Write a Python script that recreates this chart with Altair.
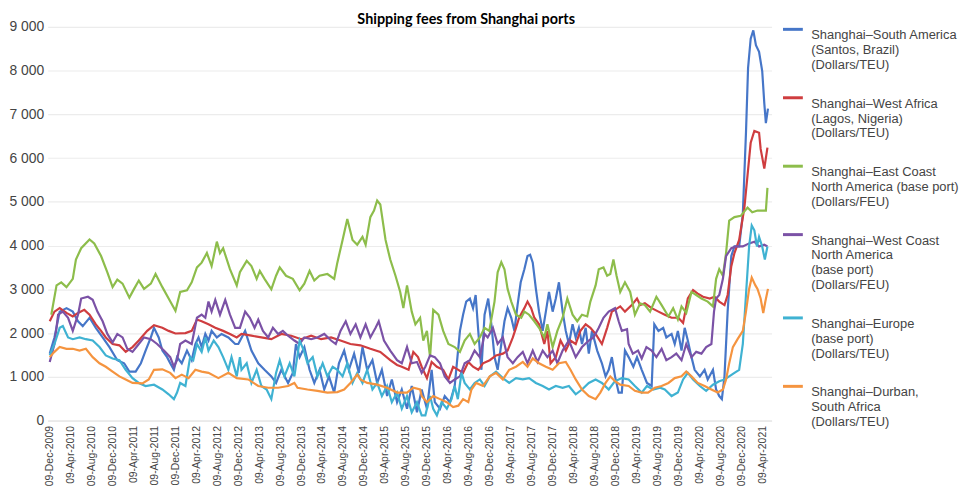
import altair as alt
import pandas as pd

FONT = "Liberation Sans Narrow, Arial Narrow, Liberation Sans, Arial"

names = [
    "Shanghai–South America|(Santos, Brazil)|(Dollars/TEU)",
    "Shanghai–West Africa|(Lagos, Nigeria)|(Dollars/TEU)",
    "Shanghai–East Coast|North America (base port)|(Dollars/FEU)",
    "Shanghai–West Coast|North America|(base port)|(Dollars/FEU)",
    "Shanghai–Europe|(base port)|(Dollars/TEU)",
    "Shanghai–Durban,|South Africa|(Dollars/TEU)",
]
colors = ["#4676c8", "#cf3d3f", "#8dbd4b", "#7b52a6", "#3fb2d2", "#f5943f"]

# months since 09-Dec-2009, fee values
t_green = [0.3,1.3,2.2,3.2,4.4,5.0,6.0,7.6,8.5,9.8,11.0,12.0,12.9,13.9,15.2,16.1,17.0,18.0,19.3,20.2,21.5,22.7,24.0,24.9,26.2,27.1,28.1,29.0,30.0,30.9,31.9,32.5,33.1,34.4,35.7,36.3,37.6,38.5,39.5,40.1,41.0,42.3,43.2,43.9,45.1,46.4,47.7,48.6,49.6,50.5,51.5,53.0,54.3,54.9,55.9,56.8,57.8,58.7,59.7,60.3,61.2,61.9,62.5,63.1,64.1,65.0,66.0,66.9,67.5,68.2,69.1,69.8,70.7,71.3,72.0,72.6,73.2,74.2,75.1,76.1,77.3,78.3,79.2,80.2,81.1,82.1,83.0,83.9,84.9,85.5,86.2,86.8,87.4,88.1,89.0,90.0,90.6,91.5,92.5,93.4,94.4,95.0,96.0,96.9,97.9,98.8,99.8,100.7,101.6,102.6,103.2,104.2,104.8,105.7,106.4,107.0,107.6,108.2,108.9,109.8,110.8,111.7,112.7,113.6,114.6,115.8,116.8,118.1,119.0,119.9,120.6,121.5,122.5,123.4,124.4,125.6,126.6,127.2,127.8,128.5,129.1,129.7,130.7,131.9,133.2,134.1,135.1,136.7,137.0]
v_green = [2420,3090,3160,3050,3240,3680,3940,4140,4050,3760,3390,3050,3220,3130,2810,3010,3200,3010,3130,3350,3050,2790,2510,2940,2980,3160,3500,3610,3830,3530,4090,3830,3940,3460,3090,3390,3650,3530,3240,3420,3240,3000,3310,3500,3310,3240,2980,3130,3420,3200,3310,3350,3240,3610,4130,4610,4130,4020,4200,4020,4650,4800,5030,4940,4130,3680,3310,2940,2570,3090,2490,2200,2350,1830,2050,1450,2530,2420,2050,1750,1680,1570,1830,1980,1750,1900,2120,2050,2720,3390,3620,3460,3010,2720,2420,2350,2490,2420,2270,2120,1900,2200,1680,2050,2350,2790,2420,2270,2420,2380,2720,3090,3460,3500,3310,3350,3680,3310,2940,3160,2940,2420,2680,2640,2490,2830,2640,2380,2570,2310,2610,2460,2940,2870,2790,2720,2610,3240,3460,3310,3830,4570,4650,4680,4870,4760,4800,4800,5320]

t_red = [0,0.9,1.9,3.2,4.4,5.4,6.6,7.6,8.8,9.8,10.7,12.0,13.3,14.5,15.8,17.0,18.6,19.9,21.5,22.7,24.0,25.9,27.1,28.1,29.0,30.3,31.6,33.1,34.4,35.7,36.6,38.5,40.4,42.3,44.2,46.1,48.0,49.9,51.8,53.7,55.5,57.4,59.3,61.2,63.1,65.0,66.3,67.2,68.5,69.4,70.3,71.0,72.0,72.9,73.9,75.1,76.1,77.0,78.0,78.9,79.9,80.8,81.8,82.7,84.0,85.2,86.5,87.4,88.4,89.0,89.6,90.6,91.2,91.9,92.5,93.4,94.4,95.0,95.6,96.6,97.5,98.5,99.4,100.4,101.3,102.3,103.2,104.2,105.4,106.4,107.3,107.9,108.9,109.8,111.1,112.1,112.7,113.6,114.9,116.2,117.4,118.7,120.0,120.9,121.8,122.8,123.7,124.7,126.0,126.9,127.8,128.8,129.4,130.1,130.7,131.6,132.6,133.2,133.8,134.5,135.4,135.7,136.4,137.0]
v_red = [2270,2490,2570,2460,2380,2460,2530,2420,2200,2050,1900,1750,1720,1570,1680,1830,2050,2180,2120,2050,1990,2000,2050,2310,2270,2200,2120,2050,1980,1900,1980,1940,1900,1860,1980,1940,1860,1940,1860,1900,1830,1750,1720,1640,1570,1380,1270,1230,1160,1570,1450,1230,970,1340,1230,1160,940,1230,1160,1090,1340,1230,1160,1310,1380,1490,1530,1600,1900,2120,2350,2570,2720,2570,2350,2200,1750,2050,1310,1450,1830,1600,1830,1750,2050,2200,2120,1980,1750,2120,2490,2530,2610,2490,2640,2790,2640,2680,2570,2490,2420,2350,2350,2230,2790,2980,2900,2830,2790,2830,2720,2640,2870,3530,3830,4130,4870,5610,6350,6620,6580,6210,5760,6240]

t_purple = [0,0.9,1.6,2.5,3.5,4.4,5.4,6.0,7.3,8.2,9.1,10.1,11.0,12.0,12.9,13.9,14.8,15.8,17.0,18.0,19.3,20.5,21.8,23.0,23.7,24.3,24.9,25.9,27.1,28.1,29.0,29.7,30.3,30.9,31.6,32.5,33.5,34.4,35.4,36.3,37.3,38.2,39.1,39.8,40.7,41.7,42.6,43.6,44.5,45.5,46.7,47.7,48.6,49.9,51.1,52.4,53.7,54.6,55.5,56.5,57.4,58.4,59.3,60.3,61.2,62.2,62.8,63.8,65.0,66.3,67.2,68.2,69.1,70.1,71.0,71.7,72.6,73.5,74.5,75.4,76.4,77.3,78.3,79.2,80.2,81.1,82.1,83.0,83.6,84.6,85.5,86.5,87.4,88.4,89.3,90.3,91.2,92.2,93.1,94.1,95.0,96.0,96.9,97.9,99.1,100.4,101.6,102.9,103.8,104.8,105.7,106.7,107.9,108.6,109.2,110.2,110.5,111.3,112.3,113.0,113.9,114.9,115.8,116.8,117.7,118.7,119.6,120.6,121.5,122.5,123.4,124.4,125.3,126.3,126.8,127.2,127.8,128.5,129.1,130.1,131.0,132.3,133.5,134.5,135.4,136.4,137.0]
v_purple = [1340,1750,2420,2490,2350,2050,2420,2790,2830,2760,2490,2270,1980,1790,1980,1900,1640,1570,1750,1900,1860,1750,1600,1450,1230,1380,1750,1830,1750,2350,2420,2350,2720,2490,2760,2420,2760,2420,2120,2120,2490,2350,2120,2310,2050,1900,2120,1980,2050,1940,1830,1750,1900,1860,1900,1980,1830,1750,2050,2270,1980,2200,1900,2200,1900,2120,2270,1830,1600,1380,1310,1680,1310,1340,1090,1230,1490,1450,1310,1010,860,940,1010,1310,1380,1600,1450,1980,1900,2120,1750,1900,1450,1310,1450,1570,1310,1600,1340,1600,1450,1600,1310,1600,1830,1450,1680,1830,1900,2120,2350,2490,2570,2270,2050,2090,1750,1530,1600,1420,1680,1600,1450,1640,1380,1450,1530,1380,1750,1450,1570,1530,1680,1750,2490,2790,2870,3240,3760,3940,3980,3980,4050,4090,3980,4020,3980]

t_blue = [0,0.9,1.9,3.2,4.4,5.4,6.3,7.6,8.8,10.1,11.4,12.9,14.2,15.2,16.4,17.4,18.3,19.3,19.9,20.8,21.5,22.4,23.0,23.7,24.3,25.2,26.2,27.1,27.8,28.4,29.0,29.7,30.3,30.9,31.9,32.8,34.1,35.4,36.0,37.3,38.5,39.8,41.0,42.3,43.2,44.2,45.5,46.4,47.0,47.7,48.6,49.6,50.5,51.5,52.4,53.3,54.3,55.2,56.2,57.1,58.1,59.0,59.7,60.6,61.6,62.5,63.4,64.4,65.3,66.3,67.2,68.2,69.1,70.1,71.0,72.0,72.9,73.5,74.5,75.4,76.4,77.3,78.3,78.9,79.5,80.2,80.8,81.3,81.8,82.4,83.0,83.7,84.3,84.9,85.5,86.2,86.8,87.4,88.1,88.7,89.3,89.9,90.6,91.2,91.7,92.2,92.8,93.4,94.1,94.7,95.3,96.0,96.6,97.2,97.9,98.5,99.1,99.8,100.4,101.0,101.6,102.3,102.9,103.5,104.5,105.4,106.1,106.7,107.3,107.9,108.6,109.2,109.8,110.5,111.4,112.1,113.0,114.0,114.9,115.4,116.2,117.1,117.7,118.7,119.3,119.9,120.6,121.2,121.8,122.5,123.1,124.1,125.0,125.6,126.6,127.2,127.8,128.3,128.8,129.4,130.1,130.7,131.6,132.3,132.9,133.3,133.8,134.3,134.8,135.4,136.0,136.4,136.7,137.1]
v_blue = [1530,1900,2490,2570,2490,2270,2160,2350,2120,1900,1680,1380,1310,1120,1120,1310,1600,1900,2120,1900,1600,1450,1310,1160,1450,1310,1600,1380,1750,1900,1680,1980,1830,2050,1900,1980,1900,1750,1750,2050,1600,1310,1160,1010,860,1160,860,1090,1750,1450,1680,1160,860,1160,710,1010,640,1310,1600,1160,1530,1090,1680,1160,1380,860,1160,560,940,420,710,270,790,190,710,270,1160,420,270,560,420,790,2050,2420,2720,2790,2570,2870,2050,1160,2420,2790,2200,1450,1160,1750,2270,2570,2350,2050,2640,3160,3460,3760,3790,3610,3010,2490,2050,2490,2940,2490,2790,3160,2490,2050,1750,2200,1900,2120,1750,2120,1530,2050,1600,1310,1010,1160,1450,1010,640,640,1600,1450,1230,1450,1160,860,790,2200,2050,2120,1900,1980,1750,2050,1600,2120,1830,1450,1160,1010,1160,940,1160,710,560,490,1010,2490,3760,3980,3980,4720,6580,8060,8730,8920,8580,8430,7990,7250,6800,7130]

t_cyan = [0,0.9,1.9,2.5,3.5,4.4,5.7,6.9,8.2,9.5,10.7,12.0,13.3,14.5,15.8,17.0,18.3,19.9,21.5,22.7,23.7,24.3,24.9,25.9,26.5,26.8,27.4,28.1,29.0,29.7,30.3,31.3,32.2,33.1,34.1,34.7,35.7,36.3,36.6,37.6,38.5,39.5,40.4,41.4,42.3,43.2,43.9,44.8,45.8,46.7,47.7,48.5,49.2,50.2,51.1,52.1,53.0,54.0,54.9,55.9,56.8,57.8,58.7,59.7,60.6,61.6,62.5,63.4,64.4,65.3,66.3,67.2,68.2,69.1,70.1,71.0,71.7,72.6,73.2,73.9,74.8,75.8,76.7,77.3,77.9,78.6,79.2,80.2,81.1,82.1,83.0,84.0,85.2,86.5,87.7,89.0,90.3,91.5,92.8,94.1,95.3,96.6,97.9,99.1,100.4,101.6,102.9,104.2,105.4,106.7,107.9,109.2,110.5,111.7,113.0,114.0,115.2,116.5,117.4,118.7,119.9,120.9,121.8,122.8,124.1,125.3,126.6,127.8,128.8,129.7,130.7,131.6,132.3,132.9,133.5,134.0,134.5,135.0,135.4,136.0,136.5,137.0]
v_cyan = [1490,1750,2120,2160,1900,1860,1900,1860,1830,1680,1490,1420,1380,1160,970,860,790,820,710,600,490,640,860,790,1230,1450,1380,1750,1570,1900,1600,1830,1680,1450,1160,1450,1010,1450,1160,1310,860,1160,790,710,490,1090,1380,1010,1310,1010,1830,1600,1310,1450,1010,1310,1010,1230,1160,1010,1310,860,1090,860,1160,710,860,560,790,420,640,270,560,190,420,120,120,560,270,120,420,270,490,790,490,1090,860,710,860,940,790,1010,1120,970,860,970,940,970,860,790,710,790,750,790,600,710,860,940,860,710,900,970,940,790,640,790,710,750,710,560,640,940,1090,940,790,680,820,900,940,1010,1090,1160,1750,2870,3980,4460,4350,3980,4200,3980,3680,3980]

t_orange = [0,0.9,1.9,3.2,4.4,5.7,6.9,8.2,9.5,10.7,12.0,13.3,14.5,15.8,17.7,18.9,19.9,21.5,23.0,24.0,25.2,26.5,27.8,29.0,30.3,32.2,34.1,35.7,37.9,39.8,41.7,43.6,45.5,46.7,47.3,49.2,51.1,53.0,54.9,56.2,57.4,58.7,59.3,60.6,62.5,64.4,66.3,68.2,69.4,70.7,71.0,72.0,73.2,74.5,75.8,77.0,78.0,78.9,79.9,80.5,81.4,82.7,84.0,85.2,86.5,87.7,89.0,90.3,91.2,92.2,93.4,94.7,96.0,97.2,98.5,99.4,100.4,101.6,102.9,104.2,105.1,106.1,107.0,107.9,108.9,110.5,111.7,113.0,114.2,115.5,116.8,118.1,119.3,120.6,121.5,122.5,123.7,125.0,126.3,127.5,128.5,129.1,129.7,130.4,131.3,132.3,132.9,133.5,134.0,134.7,135.1,135.7,136.2,136.6,137.1]
v_orange = [1450,1570,1680,1640,1640,1600,1640,1450,1310,1230,1120,1010,940,860,850,940,1160,1170,1090,970,1050,970,1160,1120,1090,970,1090,970,940,790,750,750,790,860,750,710,680,640,650,710,860,1050,940,860,820,750,640,640,750,710,560,420,560,490,420,310,340,490,420,710,860,790,1010,1090,940,1160,1230,1340,1230,1420,1310,1230,1160,1310,1340,1160,940,710,560,490,640,860,1010,900,820,790,680,640,640,750,790,860,970,1010,1120,1010,860,790,710,640,710,940,1310,1680,1860,2050,2490,3010,3270,3090,3010,2790,2460,2720,3010]

series = [
    (names[0], t_blue, v_blue),
    (names[1], t_red, v_red),
    (names[2], t_green, v_green),
    (names[3], t_purple, v_purple),
    (names[4], t_cyan, v_cyan),
    (names[5], t_orange, v_orange),
]

base = pd.Timestamp("2009-12-09")
rows = []
for name, ts, vs in series:
    for t, v in zip(ts, vs):
        rows.append({"route": name,
                     "date": (base + pd.Timedelta(days=t * 30.4375)).strftime("%Y-%m-%dT%H:%M:%S"),
                     "fee": v})
df = pd.DataFrame(rows)

tick_dates = []
for i in range(35):
    k = 11 + 4 * i
    tick_dates.append(alt.DateTime(year=2009 + k // 12, month=k % 12 + 1, date=9))

x = alt.X(
    "date:T",
    scale=alt.Scale(domain=[alt.DateTime(year=2009, month=11, date=27),
                            alt.DateTime(year=2021, month=6, date=3)]),
    axis=alt.Axis(
        title=None, values=tick_dates, labelAngle=270,
        labelExpr="timeFormat(datum.value, '%d-%b-%Y')",
        labelFont=FONT, labelFontSize=10.5, labelColor="#444",
        grid=False, ticks=False, domain=True, domainColor="#e3e3e3",
        labelPadding=5, labelOverlap=False, labelBound=False, labelFlush=False,
    ),
)
y = alt.Y(
    "fee:Q",
    scale=alt.Scale(domain=[0, 9000]),
    axis=alt.Axis(
        title=None, values=list(range(0, 9001, 1000)),
        labelExpr="replace(format(datum.value, ','), ',', ' ')",
        labelFont=FONT, labelFontSize=14, labelColor="#444",
        grid=True, gridColor="#ececec", gridWidth=1.2, ticks=False, domain=False,
        labelPadding=4,
    ),
)
color = alt.Color(
    "route:N",
    scale=alt.Scale(domain=names, range=colors),
    legend=alt.Legend(
        title=None, orient="none", legendX=740, legendY=-9,
        labelExpr="split(datum.label, '|')",
        labelFont=FONT, labelFontSize=13, labelColor="#444", labelLimit=200,
        symbolType="stroke", symbolStrokeWidth=3, symbolSize=400,
        rowPadding=14, labelBaseline="top", labelOffset=7,
    ),
)

chart = (
    alt.Chart(df)
    .mark_line(strokeWidth=2.2)
    .encode(x=x, y=y, color=color)
    .properties(
        width=730, height=397,
        autosize=alt.AutoSizeParams(type="none"),
        padding={"left": 40, "top": 17, "right": 191, "bottom": 67},
        title=alt.TitleParams("Shipping fees from Shanghai ports", fontSize=14.5,
                              font="Lato", fontWeight="bold", color="#000",
                              anchor="middle", dx=57, dy=24, offset=3, frame="group",
                              baseline="alphabetic"),
    )
    .configure_view(stroke=None)
)

chart.save("out.html", embed_options={"renderer": "svg", "actions": False})
